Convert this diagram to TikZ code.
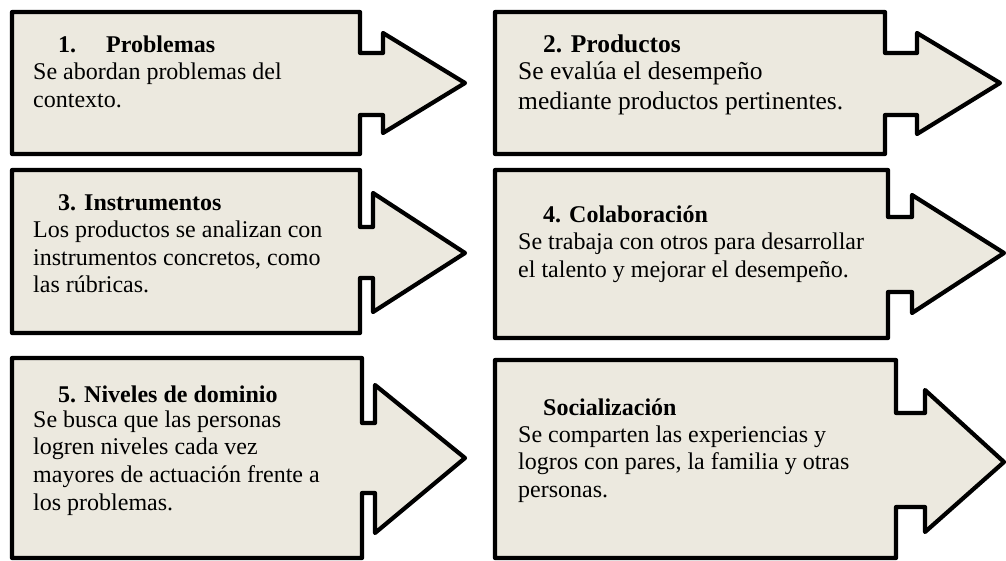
\documentclass[tikz,border=0pt]{standalone}
\usepackage{fontspec}
\setmainfont{Liberation Serif}
\definecolor{boxfill}{RGB}{236,233,223}
\tikzset{
  arrowshape/.style={draw=black, fill=boxfill, line width=4.2pt, line join=round},
  txt/.style={anchor=base west, inner sep=0pt, font=\fontsize{24}{28}\selectfont},
  txtb/.style={anchor=base west, inner sep=0pt, font=\fontsize{25.5}{30}\selectfont},
  ttl/.style={anchor=base west, inner sep=0pt, font=\fontsize{24}{28}\selectfont\bfseries},
  ttlb/.style={anchor=base west, inner sep=0pt, font=\fontsize{25.5}{30}\selectfont\bfseries}
}
\begin{document}
\begin{tikzpicture}[x=1pt,y=-1pt]
\useasboundingbox (0,0) rectangle (1006,560);
\fill[white] (0,0) rectangle (1006,560);
% box 1
\draw[arrowshape] (12,12) -- (360,12) -- (360,53) -- (383,53) -- (383,33) -- (465,83) -- (383,133) -- (383,115) -- (360,115) -- (360,154) -- (12,154) -- cycle;
% box 2
\draw[arrowshape] (495,12) -- (885,12) -- (885,53) -- (917,53) -- (917,33) -- (1000,83) -- (917,134) -- (917,115) -- (885,115) -- (885,154) -- (495,154) -- cycle;
% box 3
\draw[arrowshape] (12,170) -- (360,170) -- (360,227) -- (373,227) -- (373,193) -- (465,253) -- (373,312) -- (373,278) -- (360,278) -- (360,333) -- (12,333) -- cycle;
% box 4
\draw[arrowshape] (495,170) -- (888,170) -- (888,217) -- (912,217) -- (912,195) -- (1004,253) -- (912,313) -- (912,292) -- (888,292) -- (888,338) -- (495,338) -- cycle;
% box 5
\draw[arrowshape] (12,358) -- (362,358) -- (362,423) -- (375,423) -- (375,385) -- (465,458) -- (375,533) -- (375,493) -- (362,493) -- (362,558) -- (12,558) -- cycle;
% box 6
\draw[arrowshape] (495,360) -- (896,360) -- (896,413) -- (925,413) -- (925,390) -- (1004,462) -- (925,532) -- (925,507) -- (896,507) -- (896,558) -- (495,558) -- cycle;

% texts box 1
\node[ttl] (t1n) at (58,52) {1.};
\node[ttl] (t1) at (106,52) {Problemas};
\node[txt] (b1a) at (33,79) {Se abordan problemas del};
\node[txt] (b1b) at (33,107) {contexto.};
% box 2
\node[ttlb] (t2) at (543,52) {2. Productos};
\node[txtb] (b2a) at (518,79) {Se evalúa el desempeño};
\node[txtb] (b2b) at (518,109) {mediante productos pertinentes.};
% box 3
\node[ttl] (t3) at (58,210) {3. Instrumentos};
\node[txt] (b3a) at (33,237) {Los productos se analizan con};
\node[txt] (b3b) at (33,265) {instrumentos concretos, como};
\node[txt] (b3c) at (33,292) {las rúbricas.};
% box 4
\node[ttl] (t4) at (543,222) {4. Colaboración};
\node[txt] (b4a) at (518,249) {Se trabaja con otros para desarrollar};
\node[txt] (b4b) at (518,277) {el talento y mejorar el desempeño.};
% box 5
\node[ttl] (t5) at (58,402) {5. Niveles de dominio};
\node[txt] (b5a) at (33,427) {Se busca que las personas};
\node[txt] (b5b) at (33,454) {logren niveles cada vez};
\node[txt] (b5c) at (33,482) {mayores de actuación frente a};
\node[txt] (b5d) at (33,510) {los problemas.};
% box 6
\node[ttl] (t6) at (543,415) {Socialización};
\node[txt] (b6a) at (518,442) {Se comparten las experiencias y};
\node[txt] (b6b) at (518,469) {logros con pares, la familia y otras};
\node[txt] (b6c) at (518,497) {personas.};
\end{tikzpicture}
\end{document}
